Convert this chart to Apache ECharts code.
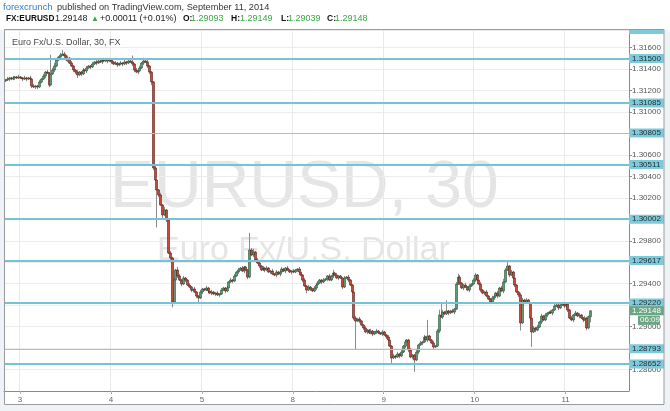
<!DOCTYPE html>
<html><head><meta charset="utf-8">
<script src="https://cdn.jsdelivr.net/npm/echarts@6/dist/echarts.min.js"></script>
<style>html,body{margin:0;padding:0;background:#eff2f6;}#c{width:670px;height:411px;}</style>
</head><body><div id="c"></div><script>
// ---- data ----
const days = ['2','3','4','5','8','9','10','11'];
const barsBeforeFirstDay = 8;           // first bar is Sept 2, 20:00
const emptyBarsRight = 20;
const firstOpen = 1.31290;
const closes = [
1.31299,1.31308,1.31318,1.31308,1.31318,1.31327,1.31318,1.31327,1.31318,1.31308,
1.31318,1.31308,1.31318,1.31308,1.31243,1.31234,1.31243,1.31234,1.31280,1.31308,
1.31336,1.31373,1.31364,1.31252,1.31355,1.31392,1.31429,1.31485,1.31513,1.31532,
1.31541,1.31523,1.31485,1.31504,1.31457,1.31429,1.31392,1.31373,1.31346,1.31373,
1.31355,1.31392,1.31383,1.31411,1.31429,1.31420,1.31448,1.31467,1.31457,1.31476,
1.31467,1.31485,1.31476,1.31495,1.31476,1.31485,1.31467,1.31448,1.31457,1.31439,
1.31448,1.31457,1.31448,1.31467,1.31457,1.31476,1.31467,1.31448,1.31392,1.31373,
1.31383,1.31411,1.31457,1.31476,1.31467,1.31429,1.31373,1.31280,1.30479,1.30367,
1.30274,1.30227,1.30134,1.30041,1.30087,1.29994,1.29686,1.29640,1.29229,1.29434,
1.29528,1.29472,1.29434,1.29397,1.29453,1.29434,1.29388,1.29369,1.29341,1.29351,
1.29323,1.29285,1.29267,1.29323,1.29351,1.29341,1.29360,1.29332,1.29313,1.29323,
1.29304,1.29313,1.29295,1.29304,1.29341,1.29360,1.29332,1.29360,1.29416,1.29434,
1.29425,1.29472,1.29509,1.29528,1.29546,1.29518,1.29556,1.29528,1.29462,1.29714,
1.29668,1.29696,1.29621,1.29593,1.29565,1.29528,1.29546,1.29528,1.29546,1.29509,
1.29518,1.29490,1.29481,1.29509,1.29490,1.29509,1.29537,1.29518,1.29546,1.29528,
1.29509,1.29518,1.29509,1.29528,1.29537,1.29509,1.29481,1.29434,1.29379,1.29341,
1.29369,1.29351,1.29332,1.29360,1.29388,1.29406,1.29434,1.29416,1.29434,1.29444,
1.29472,1.29434,1.29472,1.29500,1.29481,1.29453,1.29472,1.29453,1.29369,1.29453,
1.29462,1.29434,1.29388,1.29323,1.29080,1.29052,1.29071,1.29052,1.29015,1.28987,
1.28950,1.28968,1.28940,1.28959,1.28931,1.28950,1.28959,1.28940,1.28931,1.28950,
1.28922,1.28903,1.28875,1.28819,1.28708,1.28726,1.28717,1.28745,1.28726,1.28763,
1.28819,1.28857,1.28875,1.28782,1.28717,1.28735,1.28689,1.28763,1.28829,1.28847,
1.28857,1.28903,1.28875,1.28913,1.28875,1.28847,1.28810,1.28819,1.28959,1.29108,
1.29090,1.29136,1.29118,1.29146,1.29127,1.29146,1.29136,1.29164,1.29397,1.29462,
1.29406,1.29360,1.29388,1.29369,1.29341,1.29379,1.29397,1.29434,1.29481,1.29434,
1.29397,1.29341,1.29313,1.29323,1.29285,1.29257,1.29229,1.29267,1.29285,1.29313,
1.29285,1.29360,1.29332,1.29416,1.29528,1.29565,1.29481,1.29509,1.29453,1.29388,
1.29323,1.29295,1.29034,1.29248,1.29229,1.29248,1.29220,1.29080,1.28950,1.28987,
1.28968,1.28996,1.29043,1.29099,1.29062,1.29108,1.29127,1.29136,1.29127,1.29155,
1.29192,1.29202,1.29174,1.29202,1.29211,1.29192,1.29211,1.29155,1.29080,1.29062,
1.29108,1.29127,1.29099,1.29108,1.29080,1.29062,1.29080,1.28987,1.29093,1.29148];
// upper / lower wick extensions beyond the body, in pips
const upperWickPips = [
1,2,1,1,2,1,1,2,1,1, 2,1,1,2,1,2,1,1,2,1, 2,1,2,1,18,2,3,2,1,2, 4,2,1,2,1,2,1,1,2,1,
1,2,1,2,1,1,2,1,2,1, 2,1,2,1,1,2,1,1,2,1, 1,2,1,2,1,2,1,6,1,2, 1,2,1,3,1,2,1,1,1,2,
2,1,2,1,3,1,1,2,1,2, 1,3,2,1,2,1,1,2,1,1, 2,1,1,2,1,1,2,1,1,2, 1,1,2,1,2,1,1,2,1,2,
1,2,1,2,1,2,1,1,1,16, 2,3,1,2,1,1,2,1,2,1, 1,2,1,2,1,1,2,1,1,2, 1,1,2,1,1,2,1,1,2,1,
2,1,1,2,1,2,1,1,2,1, 1,2,1,3,1,2,1,1,1,2, 1,2,1,1,1,2,1,2,1,1, 2,1,1,2,1,1,2,1,1,2,
1,1,2,1,1,2,1,2,1,2, 1,2,1,1,2,1,1,2,1,2, 1,2,1,15,1,1,2,1,2,5, 11,2,1,10,1,1,2,1,2,3,
2,1,1,2,1,2,1,2,2,1, 1,2,1,1,2,1,1,2,1,1, 2,1,2,3,2,4,1,2,1,1, 1,1,2,2,1,2,1,1,1,2,
1,2,1,2,1,2,1,1,2,1, 2,1,1,2,1,2,1,1,1,2, 1,2,1,2,1,1,2,1,1,0.1];
const lowerWickPips = [
1,1,2,1,1,2,1,1,1,2, 1,2,1,1,2,1,2,2,1,1, 1,2,1,2,1,1,2,1,1,1, 1,2,1,2,1,1,2,2,3,1,
2,1,1,2,1,2,1,1,2,1, 1,2,1,1,2,1,2,1,1,2, 1,1,2,1,2,1,1,2,2,1, 2,1,1,2,1,2,2,3,2,1,
35,2,1,3,1,2,1,2,5,2, 1,2,1,2,1,2,1,1,2,1, 1,2,5,1,2,1,1,2,1,2, 1,2,1,2,1,1,2,1,2,1,
2,1,1,2,1,1,2,1,2,1, 1,2,1,1,2,1,1,2,1,1, 2,1,1,2,1,2,1,1,2,1, 1,2,1,1,2,1,1,2,1,3,
1,2,1,1,2,1,1,2,1,1, 2,1,1,2,1,1,2,1,2,1, 1,2,1,1,2,26,1,2,1,2, 1,2,1,1,2,1,2,1,1,2,
1,2,1,1,5,1,2,1,2,1, 1,2,1,2,1,2,11,1,2,1, 2,1,1,2,1,1,2,1,1,2, 1,2,1,1,2,1,1,2,1,1,
2,1,2,1,1,2,1,1,2,1, 1,2,1,2,1,1,2,1,2,1, 2,1,1,2,1,1,2,1,1,2, 1,2,7,1,2,1,1,2,14,1,
2,1,1,2,1,1,2,1,1,2, 1,1,2,1,1,2,1,2,1,1, 2,1,1,2,1,2,1,2,1,5.4];
const levels      = [1.31500, 1.31085, 1.30805, 1.30511, 1.30002, 1.29617, 1.29220, 1.28793, 1.28652];
const levelWidths = [2, 2, 1.2, 2, 2, 2, 2, 1.2, 2];
const topLevel = 1.31770;               // level sitting on the top edge of the chart
const lastPrice = 1.29148;
const countdown = '06:09';
const yMin = 1.284, yMax = 1.31765, yStep = 0.002;

// ---- build ----
const nBars = closes.length + emptyBarsRight;
const cats = [];
for (let k = 0; k < nBars; k++) {
  const t = k - barsBeforeFirstDay + 48;
  const d = Math.min(days.length - 1, Math.floor(t / 48));
  const s = t % 48;
  const hh = String(Math.floor(s / 2)).padStart(2, '0');
  const mm = s % 2 ? '30' : '00';
  cats.push(days[d] + ' ' + hh + ':' + mm);
}
const candles = closes.map((c, i) => {
  const o = i === 0 ? firstOpen : closes[i - 1];
  const h = Math.max(o, c) + upperWickPips[i] * 0.0001;
  const l = Math.min(o, c) - lowerWickPips[i] * 0.0001;
  return [i, o, c, l, h];
});
const isDayStart = (idx, val) => /\s00:00$/.test(val);

const FONT = '"Liberation Sans", Arial, sans-serif';
const LVL = '#74c3d7';

function renderItem(params, api) {
  const i = api.value(0), o = api.value(1), c = api.value(2), l = api.value(3), h = api.value(4);
  const pO = api.coord([i, o]), pC = api.coord([i, c]), pL = api.coord([i, l]), pH = api.coord([i, h]);
  const bw = api.size([1, 0])[0] * 0.95;
  const up = c >= o;
  const x = Math.round(pO[0]) + 0.5;
  const top = Math.min(pO[1], pC[1]), bot = Math.max(pO[1], pC[1]);
  return { type: 'group', children: [
    { type: 'line', shape: { x1: x, y1: pH[1], x2: x, y2: pL[1] }, style: { stroke: '#8c8c8e', lineWidth: 1 } },
    { type: 'rect', shape: { x: x - bw / 2, y: top, width: bw, height: Math.max(1, bot - top) },
      style: { fill: up ? '#6ba583' : '#d75442', stroke: up ? '#225437' : '#5b1a13', lineWidth: 0.7 } }
  ]};
}

const lblBase = { show: true, position: 'end', distance: 0, fontSize: 8, fontFamily: FONT, lineHeight: 9, padding: [0, 3, 0, 3] };
const markData = levels.map((v, k) => ({
  yAxis: v,
  lineStyle: { color: levelWidths[k] < 2 ? '#86cddd' : LVL, width: levelWidths[k], type: 'solid' },
  label: Object.assign({}, lblBase, { formatter: v.toFixed(5), backgroundColor: '#7ecadb', color: '#1d2b30' })
}));

const chart = echarts.init(document.getElementById('c'), null, { renderer: 'canvas' });

function txt(id, x, y, text, size, color, weight, z) {
  return { type: 'text', id: id, x: x, y: y, z: z || 110,
    style: { text: text, fill: color, font: (weight || 'normal') + ' ' + size + 'px ' + FONT,
      align: 'left', verticalAlign: 'middle', textAlign: 'left', textVerticalAlign: 'middle' } };
}

const baseGraphics = [
  { type: 'rect', id: 'bg', z: -10, shape: { x: 4, y: 29, width: 660, height: 376 }, style: { fill: '#ffffff' } },
  { type: 'text', id: 'wm1', x: 110, y: 189, z: -5,
    style: { text: 'EURUSD, 30', fill: '#e5e5e5', font: '66px ' + FONT, textAlign: 'left', textVerticalAlign: 'middle', align: 'left', verticalAlign: 'middle' } },
  { type: 'text', id: 'wm2', x: 157, y: 251, z: -5,
    style: { text: 'Euro Fx/U.S. Dollar', fill: '#e5e5e5', font: '34px ' + FONT, textAlign: 'left', textVerticalAlign: 'middle', align: 'left', verticalAlign: 'middle' } },
  { type: 'rect', id: 'hdr', z: 100, shape: { x: 0, y: 0, width: 670, height: 29.5 }, style: { fill: '#ffffff' } },
  { type: 'rect', id: 'frame', z: 101, shape: { x: 4.5, y: 29.5, width: 659.5, height: 375 }, style: { fill: 'none', stroke: '#9b9b9b', lineWidth: 1 } },
  txt('t0', 3, 7, 'forexcrunch', 9.5, '#3a7cc0'),
  txt('t1', 57, 7, 'published on TradingView.com, September 11, 2014', 9.2, '#333333'),
  txt('s0', 6, 18.5, 'FX:EURUSD', 8.3, '#111111', 'bold'),
  txt('s1', 55, 18.5, '1.29148', 9, '#222222'),
  txt('s2', 91, 18.5, '▲', 8, '#3aa845'),
  txt('s3', 100, 18.5, '+0.00011 (+0.01%)', 9, '#222222'),
  txt('s4', 183, 18.5, 'O:', 8.5, '#111111', 'bold'),
  txt('s5', 191, 18.5, '1.29093', 9, '#3aa845'),
  txt('s6', 231, 18.5, 'H:', 8.5, '#111111', 'bold'),
  txt('s7', 240, 18.5, '1.29149', 9, '#3aa845'),
  txt('s8', 281, 18.5, 'L:', 8.5, '#111111', 'bold'),
  txt('s9', 288, 18.5, '1.29039', 9, '#3aa845'),
  txt('s10', 327, 18.5, 'C:', 8.5, '#111111', 'bold'),
  txt('s11', 335, 18.5, '1.29148', 9, '#3aa845'),
  txt('title', 12, 42.5, 'Euro Fx/U.S. Dollar, 30, FX', 9, '#4a4a4a')
];

chart.setOption({
  animation: false,
  backgroundColor: 'transparent',
  grid: { left: 4, top: 30, width: 625, height: 361, containLabel: false },
  xAxis: {
    type: 'category', data: cats, boundaryGap: true,
    axisLine: { lineStyle: { color: '#8a8a8a' } },
    axisTick: { show: true, interval: isDayStart, alignWithLabel: true, length: 3, lineStyle: { color: '#b0b0b0' } },
    axisLabel: { interval: isDayStart, formatter: v => v.split(' ')[0], fontSize: 8, color: '#666', margin: 5, fontFamily: FONT },
    splitLine: { show: true, interval: isDayStart, lineStyle: { color: '#e9e9e9' } }
  },
  yAxis: {
    type: 'value', position: 'right', min: yMin, max: yMax, interval: yStep,
    axisLine: { show: true, lineStyle: { color: '#8a8a8a' } },
    axisTick: { show: true, length: 3, lineStyle: { color: '#8a8a8a' } },
    axisLabel: { formatter: v => v.toFixed(5), fontSize: 8, color: '#555', margin: 3, fontFamily: FONT, showMinLabel: false, showMaxLabel: false },
    splitLine: { show: true, lineStyle: { color: '#ececec' } }
  },
  series: [
    { type: 'custom', name: 'EURUSD', renderItem: renderItem, data: candles, encode: { x: 0, y: [1, 2, 3, 4] }, z: 3, silent: true },
    { type: 'line', name: 'levels', data: cats.map(() => '-'), symbol: 'none', silent: true, z: 4,
      markLine: { silent: true, precision: 5, symbol: ['none', 'none'], animation: false, data: markData } }
  ],
  graphic: baseGraphics
});

const py = chart.convertToPixel({ yAxisIndex: 0 }, lastPrice);
const pTop = chart.convertToPixel({ yAxisIndex: 0 }, topLevel);
chart.setOption({ graphic: baseGraphics.concat([
  { type: 'rect', id: 'topbox', z: 102, shape: { x: 629, y: 30, width: 35, height: Math.max(0, pTop + 4.5 - 30) }, style: { fill: '#7ecadb' } },
  { type: 'rect', id: 'lpbox', z: 50, shape: { x: 629, y: py - 4.5, width: 35, height: 9 }, style: { fill: '#6ba583' } },
  txt('lptxt', 632, py, lastPrice.toFixed(5), 8, '#ffffff', 'normal', 51),
  { type: 'rect', id: 'cdbox', z: 50, shape: { x: 638, y: py + 5, width: 22, height: 9 }, style: { fill: '#6ba583' } },
  txt('cd', 640, py + 9.5, countdown, 8, '#ffffff', 'normal', 51)
]) });
</script></body></html>
